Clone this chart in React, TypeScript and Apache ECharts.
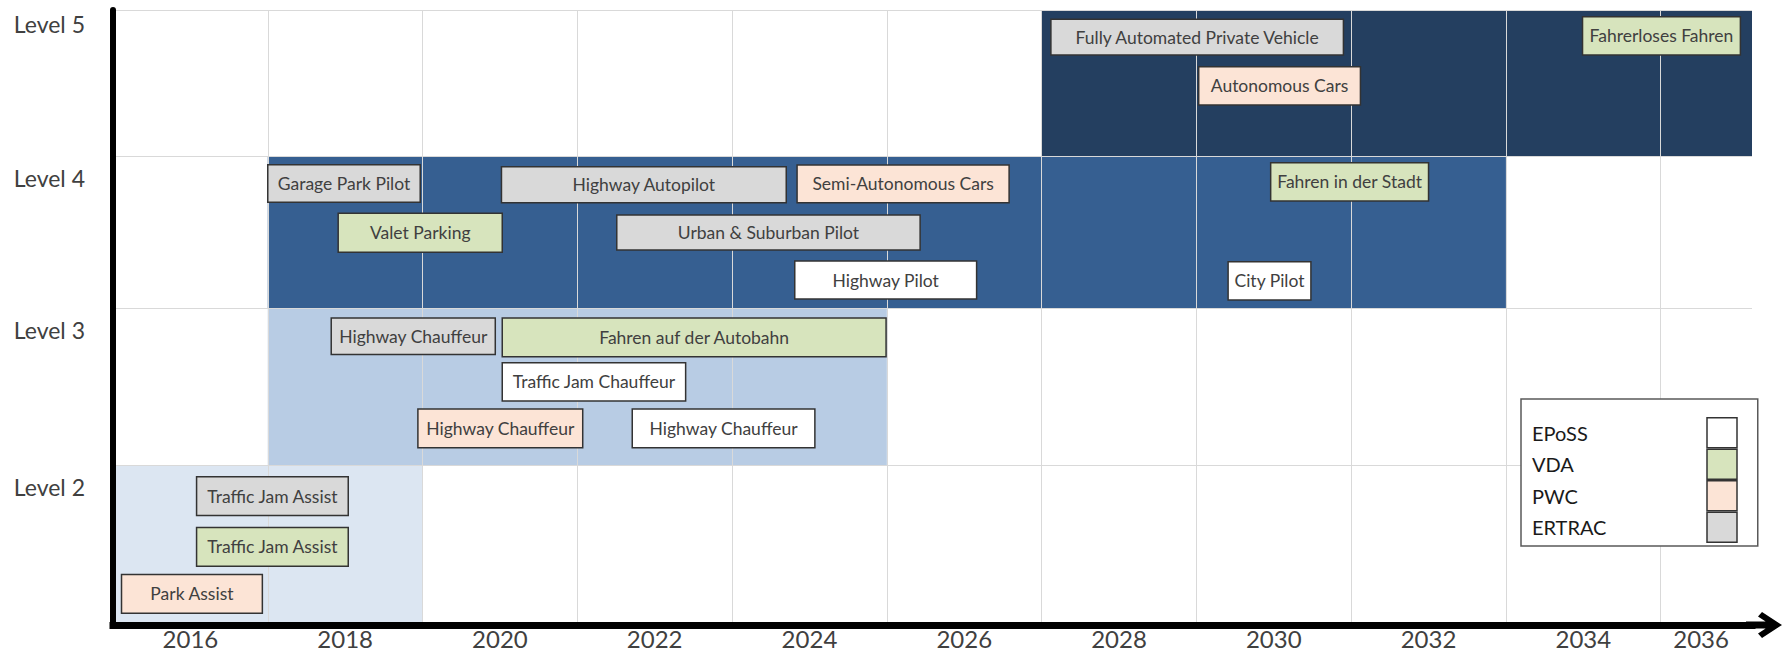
import React, { useEffect, useRef } from 'react';
import * as echarts from 'echarts';

// ---------- data ----------
const X_MIN = 2015;
const X_MAX = 2036.18;
const yearTicks = [2016, 2018, 2020, 2022, 2024, 2026, 2028, 2030, 2032, 2034, 2036];
const levelLabels = ['Level 2', 'Level 3', 'Level 4', 'Level 5'];

// level bands (index 0 = Level 2): start year, end year
const bandStart = [2015, 2017, 2017, 2027];
const bandEnd = [2019, 2025, 2033, 2036.18];

// boxes: label, level index (0 = Level 2), start year, end year, top, bottom (0..1 inside the level row)
type Box = [string, number, number, number, number, number];
const eposs: Box[] = [
  ['Highway Pilot', 2, 2023.81, 2026.16, 0.309, 0.059],
  ['City Pilot', 2, 2029.41, 2030.48, 0.305, 0.053],
  ['Traffic Jam Chauffeur', 1, 2020.03, 2022.4, 0.652, 0.408],
  ['Highway Chauffeur', 1, 2021.71, 2024.07, 0.357, 0.11],
];
const vda: Box[] = [
  ['Fahrerloses Fahren', 3, 2033.99, 2036.03, 0.954, 0.692],
  ['Fahren in der Stadt', 2, 2029.96, 2032.0, 0.956, 0.704],
  ['Valet Parking', 2, 2017.91, 2020.03, 0.623, 0.366],
  ['Fahren auf der Autobahn', 1, 2020.03, 2024.99, 0.936, 0.69],
  ['Traffic Jam Assist', 0, 2016.08, 2018.04, 0.61, 0.367],
];
const pwc: Box[] = [
  ['Autonomous Cars', 3, 2029.03, 2031.12, 0.612, 0.349],
  ['Semi-Autonomous Cars', 2, 2023.84, 2026.58, 0.941, 0.693],
  ['Highway Chauffeur', 1, 2018.94, 2021.07, 0.357, 0.11],
  ['Park Assist', 0, 2015.11, 2016.93, 0.316, 0.073],
];
const ertrac: Box[] = [
  ['Fully Automated Private Vehicle', 3, 2027.12, 2030.9, 0.936, 0.692],
  ['Garage Park Pilot', 2, 2017.0, 2018.97, 0.942, 0.696],
  ['Highway Autopilot', 2, 2020.02, 2023.7, 0.93, 0.693],
  ['Urban & Suburban Pilot', 2, 2021.51, 2025.43, 0.612, 0.382],
  ['Highway Chauffeur', 1, 2017.82, 2019.94, 0.936, 0.704],
  ['Traffic Jam Assist', 0, 2016.08, 2018.04, 0.926, 0.684],
];
const sourceNames = ['EPoSS', 'VDA', 'PWC', 'ERTRAC'];
const sourceBoxes = [eposs, vda, pwc, ertrac];

// ---------- layout & styles ----------
const GRID_LEFT = 113;
const GRID_RIGHT = 30;
// pixel rows of the four level grids (index 0 = Level 2)
const ROW_TOP = [465, 308, 156, 10];
const ROW_HEIGHT = [160, 157, 152, 146];
const LABEL_LINE_HEIGHT = [44, 44, 44, 28];

const FONT = 'Lato, "Noto Sans", sans-serif';
const TEXT = '#404040';
const GRID_LINE = '#D9D9D9';
const BAND_COLORS = ['#DCE6F2', '#B8CCE4', '#365F91', '#243F60'];
const SOURCE_COLORS = ['#FFFFFF', '#D7E4BD', '#FCE4D6', '#D9D9D9'];
const BOX_BORDER = '#333333';
const ARROW =
  'path://M13,0 L26,20 L21.5,24 L13,11 L4.5,24 L0,20 Z M9.5,6 L16.5,6 L16.5,36 L9.5,36 Z';

function boxSeries(name: string, boxes: Box[], fill: string, level: number) {
  return {
    type: 'custom',
    name,
    z: 3,
    xAxisIndex: level * 2,
    yAxisIndex: level,
    clip: false,
    itemStyle: { color: fill, borderColor: BOX_BORDER, borderWidth: 1.5 },
    encode: { x: [0, 1], y: [2, 3] },
    data: boxes.map((b) => [b[2], b[3], b[4], b[5]]),
    renderItem: (params: any, api: any) => {
      const p0 = api.coord([api.value(0), api.value(2)]);
      const p1 = api.coord([api.value(1), api.value(3)]);
      return {
        type: 'group',
        children: [
          {
            type: 'rect',
            shape: { x: p0[0], y: p0[1], width: p1[0] - p0[0], height: p1[1] - p0[1] },
            style: { fill, stroke: BOX_BORDER, lineWidth: 1.5 },
          },
          {
            type: 'text',
            x: (p0[0] + p1[0]) / 2,
            y: (p0[1] + p1[1]) / 2,
            style: {
              text: boxes[params.dataIndex][0],
              fill: TEXT,
              fontSize: 17.5,
              fontFamily: FONT,
              align: 'center',
              verticalAlign: 'middle',
            },
          },
        ],
      };
    },
  };
}

export default function App() {
  const ref = useRef<HTMLDivElement>(null);

  useEffect(() => {
    if (!ref.current) return;
    const chart = echarts.init(ref.current, undefined, { renderer: 'svg' });

    const levels = [0, 1, 2, 3];
    const grids = levels.map((i) => ({
      left: GRID_LEFT,
      right: GRID_RIGHT,
      top: ROW_TOP[i],
      height: ROW_HEIGHT[i],
      containLabel: false,
    }));

    const xAxes: any[] = [];
    levels.forEach((i) => {
      const bottom = i === 0;
      xAxes.push({
        type: 'value',
        gridIndex: i,
        min: X_MIN,
        max: X_MAX,
        interval: 1,
        position: 'bottom',
        z: 2,
        axisLine: bottom
          ? {
              show: true,
              onZero: false,
              lineStyle: { color: '#000', width: 7, cap: 'square' },
              symbol: ['none', ARROW],
              symbolSize: [26, 36],
              symbolOffset: [0, 12],
            }
          : { show: false, onZero: false },
        axisTick: { show: false },
        splitLine: { show: false },
        axisLabel: bottom
          ? {
              margin: 1,
              fontSize: 24,
              fontFamily: FONT,
              color: TEXT,
              formatter: (v: number) => {
                if (!yearTicks.includes(v)) return '';
                return v === yearTicks[yearTicks.length - 1] ? `{last|${v}}` : String(v);
              },
              rich: {
                last: { padding: [0, 74, 0, 0], fontSize: 24, fontFamily: FONT, color: TEXT },
              },
            }
          : { show: false },
      });
      xAxes.push({
        type: 'value',
        gridIndex: i,
        min: 0,
        max: X_MAX - X_MIN,
        interval: 2,
        position: 'top',
        z: 2,
        axisLine: { show: false, onZero: false },
        axisTick: { show: false },
        axisLabel: { show: false },
        splitLine: { show: true, showMaxLine: false, lineStyle: { color: GRID_LINE, width: 1 } },
      });
    });

    const yAxes = levels.map((i) => ({
      type: 'value',
      gridIndex: i,
      min: 0,
      max: 1,
      interval: 1,
      z: 2,
      axisLine: { show: true, onZero: false, lineStyle: { color: '#000', width: 6 } },
      axisTick: { show: false },
      splitLine: { show: true, lineStyle: { color: GRID_LINE, width: 1 } },
      axisLabel: {
        margin: 28,
        fontSize: 23,
        lineHeight: LABEL_LINE_HEIGHT[i],
        fontFamily: FONT,
        color: TEXT,
        verticalAlign: 'top',
        formatter: (v: number) => (v === 1 ? levelLabels[i] : ''),
      },
    }));

    const bandSeries = levels.map((i) => ({
      type: 'custom',
      name: 'band' + i,
      z: 1,
      xAxisIndex: i * 2,
      yAxisIndex: i,
      encode: { x: [0, 1] },
      data: [[bandStart[i], bandEnd[i]]],
      renderItem: (params: any, api: any) => {
        const p0 = api.coord([api.value(0), 1]);
        const p1 = api.coord([api.value(1), 0]);
        return {
          type: 'rect',
          shape: { x: p0[0], y: p0[1], width: p1[0] - p0[0], height: p1[1] - p0[1] },
          style: { fill: BAND_COLORS[i] },
        };
      },
    }));

    const boxSeriesList: any[] = [];
    sourceNames.forEach((name, s) => {
      levels.forEach((lv) => {
        const subset = sourceBoxes[s].filter((b) => b[1] === lv);
        if (subset.length) boxSeriesList.push(boxSeries(name, subset, SOURCE_COLORS[s], lv));
      });
    });

    const option: any = {
      animation: false,
      backgroundColor: '#ffffff',
      grid: grids,
      legend: {
        orient: 'vertical',
        left: 1521,
        top: 399,
        align: 'right',
        itemWidth: 30,
        itemHeight: 30,
        itemGap: 0,
        padding: [18, 20, 3, 11],
        backgroundColor: '#ffffff',
        borderColor: '#595959',
        borderWidth: 1.5,
        selectedMode: false,
        icon: 'rect',
        itemStyle: { borderColor: BOX_BORDER, borderWidth: 1.5 },
        formatter: (name: string) => `{t|${name}}`,
        textStyle: {
          rich: {
            t: { width: 170, align: 'left', fontSize: 20, fontFamily: FONT, color: '#1a1a1a' },
          },
        },
        data: sourceNames,
      },
      xAxis: xAxes,
      yAxis: yAxes,
      series: [...bandSeries, ...boxSeriesList],
    };
    chart.setOption(option);
    return () => chart.dispose();
  }, []);

  return (
    <div
      ref={ref}
      style={{ position: 'absolute', left: 0, top: 0, width: 1782, height: 657 }}
    />
  );
}
